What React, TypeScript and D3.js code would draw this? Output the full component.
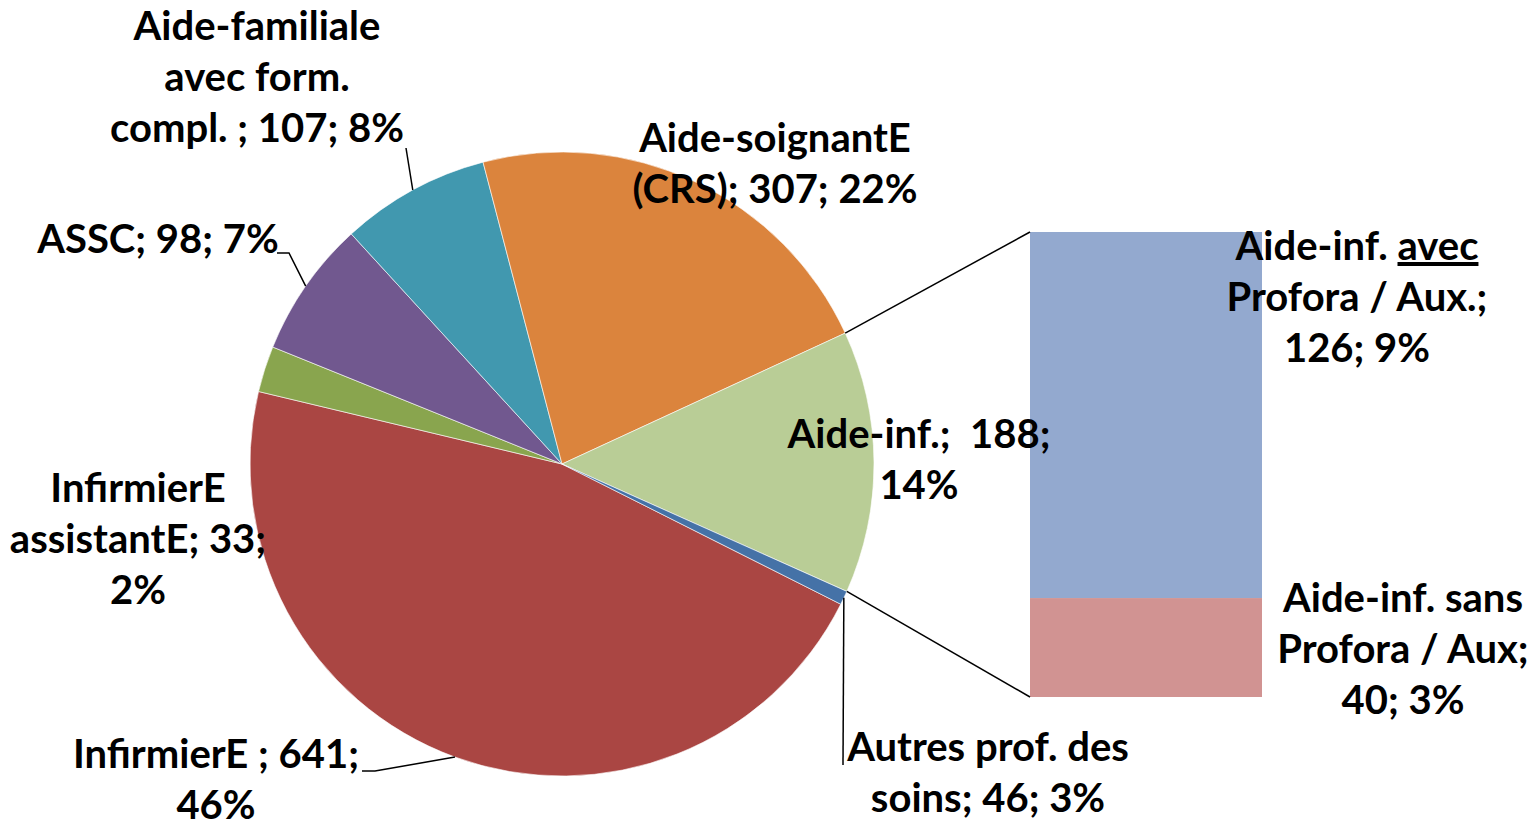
import * as d3 from 'd3'

const W = 1531
const H = 828

// pie slices, clockwise from the lower right
const sliceNames = ['InfirmierE', 'InfirmierE assistantE', 'ASSC', 'Aide-familiale', 'Aide-soignantE', 'Aide-inf.', 'Autres prof. des soins']
const barNames = ['Aide-inf. avec Profora / Aux.', 'Aide-inf. sans Profora / Aux']
const barValues = [148, 40]
const pieValues = [641, 33, 98, 107, 307, 188, 10]

const sliceColors = ['#AA4643', '#89A54E', '#71588F', '#4198AF', '#DB843D', '#B9CD96', '#4572A7']
const barColors = ['#93A9CF', '#D19392']

// label text as typed on the chart (_x_ = underlined)
const sliceLabels = [
  ['InfirmierE ; 641;', '46%'],
  ['InfirmierE', 'assistantE; 33;', '2%'],
  ['ASSC; 98; 7%'],
  ['Aide-familiale', 'avec form.', 'compl. ; 107; 8%'],
  ['Aide-soignantE', '(CRS); 307; 22%'],
  ['Aide-inf.;  188;', '14%'],
  ['Autres prof. des', 'soins; 46; 3%'],
]
const barLabels = [
  ['Aide-inf. _avec_', 'Profora / Aux.;', '126; 9%'],
  ['Aide-inf. sans', 'Profora / Aux;', '40; 3%'],
]

// label layout: centre x, first baseline
const slicePos: [number, number][] = [[216, 768], [138, 502], [158, 253], [257, 40], [775, 152], [919, 448], [988, 761]]
const barPos: [number, number][] = [[1357, 260], [1403, 612]]
// leader start points (before reaching the slice)
const leaders: ([number, number][] | null)[] = [
  [[362, 771], [375, 771]],
  null,
  [[277, 253], [289, 253]],
  [[406, 148]],
  null,
  null,
  [[843, 765]],
]

const CX = 562
const CY = 464
const R = 312
const START = (116.7 * Math.PI) / 180
const BAR = { x0: 1030, x1: 1262, top: 232, bottom: 697 }
const LINE_H = 51
const FONT = "Lato, 'Open Sans', sans-serif"
const FS = 40

function Label({ lines, x, y }: { lines: string[]; x: number; y: number }) {
  return (
    <text x={x} y={y} textAnchor="middle" fontFamily={FONT} fontWeight={700} fontSize={FS} fill="#000" style={{ whiteSpace: 'pre' }}>
      {lines.map((ln, i) => (
        <tspan key={i} x={x} y={y + i * LINE_H}>
          {ln.split('_').map((seg, j) => (
            <tspan key={j} textDecoration={j % 2 ? 'underline' : undefined}>{seg}</tspan>
          ))}
        </tspan>
      ))}
    </text>
  )
}

export default function App() {
  const pie = d3.pie<number>().sort(null).value(d => d).startAngle(START).endAngle(START + 2 * Math.PI)
  const arcs = pie(pieValues)
  const arc = d3.arc<d3.PieArcDatum<number>>().innerRadius(0).outerRadius(R)
  const edge = (a: number): [number, number] => [CX + R * Math.sin(a), CY - R * Math.cos(a)]

  const y = d3.scaleLinear().domain([0, d3.sum(barValues)]).range([BAR.bottom, BAR.top])
  const stack = barValues.map((v, i) => {
    const base = d3.sum(barValues.slice(i + 1))
    return { y0: y(base), y1: y(base + v), name: barNames[i] }
  })

  const other = arcs[5]
  const pTop = edge(other.startAngle)
  const pBot = edge(other.endAngle)

  return (
    <svg width={W} height={H} style={{ position: 'fixed', left: 0, top: 0, background: '#fff' }}>
      <g transform={`translate(${CX},${CY})`}>
        {arcs.map((a, i) => (
          <path key={sliceNames[i]} d={arc(a) ?? ''} fill={sliceColors[i]} stroke="#fff" strokeWidth={0.6} />
        ))}
      </g>
      {stack.map((s, i) => (
        <rect key={s.name} x={BAR.x0} width={BAR.x1 - BAR.x0} y={s.y1} height={s.y0 - s.y1} fill={barColors[i]} />
      ))}
      <line x1={pTop[0]} y1={pTop[1]} x2={BAR.x0} y2={y(d3.sum(barValues))} stroke="#000" strokeWidth={1.5} />
      <line x1={pBot[0]} y1={pBot[1]} x2={BAR.x0} y2={y(0)} stroke="#000" strokeWidth={1.5} />
      {arcs.map((a, i) => {
        const from = leaders[i]
        if (!from) return null
        const end = edge((a.startAngle + a.endAngle) / 2)
        const pts = [...from, end].map(p => p.join(',')).join(' ')
        return <polyline key={i} points={pts} fill="none" stroke="#000" strokeWidth={1.5} />
      })}
      {sliceLabels.map((lines, i) => (
        <Label key={i} lines={lines} x={slicePos[i][0]} y={slicePos[i][1]} />
      ))}
      {barLabels.map((lines, i) => (
        <Label key={i} lines={lines} x={barPos[i][0]} y={barPos[i][1]} />
      ))}
    </svg>
  )
}
